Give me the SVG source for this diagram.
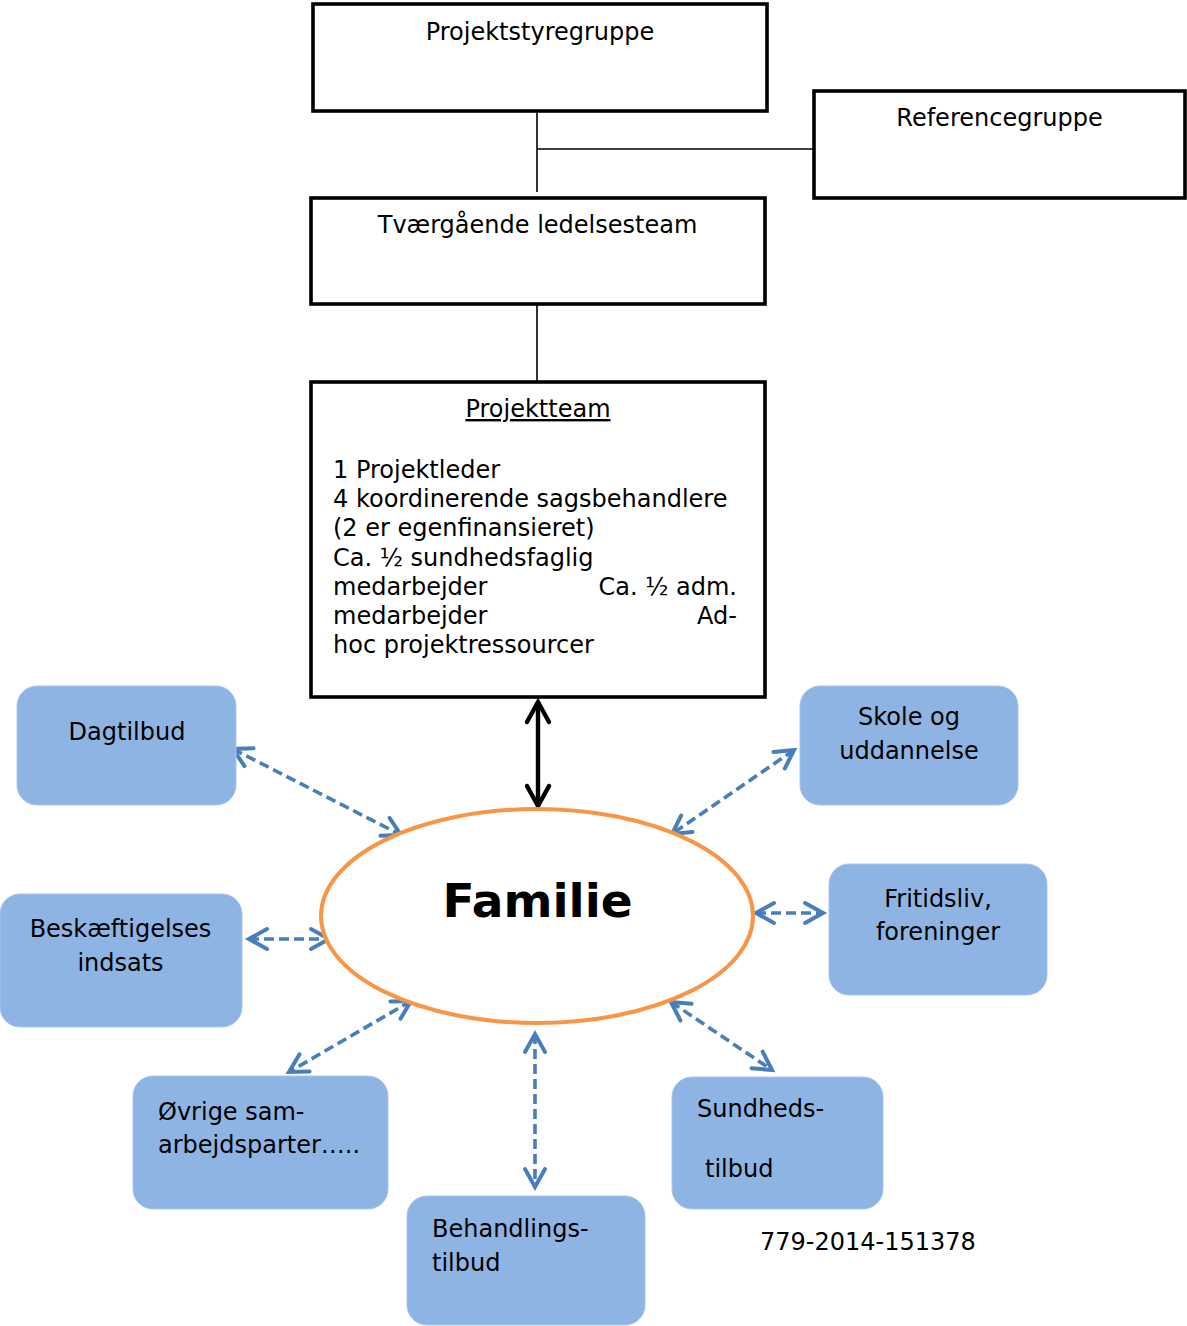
<svg xmlns="http://www.w3.org/2000/svg" width="1187" height="1326" viewBox="0 0 1187 1326">
<style>
text{font-family:"DejaVu Sans","Verdana",sans-serif;font-size:24px;fill:#000}
.box{fill:#fff;stroke:#000;stroke-width:3.6}
.blue{fill:#8EB4E3;stroke:#A9C6EC;stroke-width:1}
.conn{fill:none;stroke:#000;stroke-width:1.6}
.dash{fill:none;stroke:#4A7EBB;stroke-width:3.6;stroke-dasharray:10 5}
.mid{text-anchor:middle}
.end{text-anchor:end}
</style>
<defs>
<marker id="bh" viewBox="-24 -14 28 28" markerWidth="28" markerHeight="28" refX="0" refY="0" markerUnits="userSpaceOnUse" orient="auto-start-reverse" overflow="visible">
<path d="M-18,-10 L0,0 L-18,10" fill="none" stroke="#4A7EBB" stroke-width="4" stroke-linecap="round" stroke-dasharray="none"/>
</marker>
<marker id="kh" viewBox="-26 -14 30 28" markerWidth="30" markerHeight="28" refX="0" refY="0" markerUnits="userSpaceOnUse" orient="auto-start-reverse" overflow="visible">
<path d="M-20,-11 L0,0 L-20,11" fill="none" stroke="#000" stroke-width="4.4" stroke-linecap="round"/>
</marker>
</defs>
<rect width="1187" height="1326" fill="#fff"/>

<g id="connectors">
<line class="conn" x1="537" y1="111" x2="537" y2="192"/>
<line class="conn" x1="537" y1="149" x2="814" y2="149"/>
<line class="conn" x1="537" y1="304" x2="537" y2="382"/>
<line x1="538" y1="702" x2="538" y2="806" stroke="#000" stroke-width="4.4" marker-start="url(#kh)" marker-end="url(#kh)"/>
<line class="dash" x1="233" y1="749" x2="401" y2="835" marker-start="url(#bh)" marker-end="url(#bh)"/>
<line class="dash" x1="794" y1="750" x2="672" y2="834" marker-start="url(#bh)" marker-end="url(#bh)"/>
<line class="dash" x1="249" y1="939" x2="329" y2="939" marker-start="url(#bh)" marker-end="url(#bh)"/>
<line class="dash" x1="756" y1="913" x2="823" y2="913" marker-start="url(#bh)" marker-end="url(#bh)"/>
<line class="dash" x1="411" y1="1001" x2="289" y2="1072" marker-start="url(#bh)" marker-end="url(#bh)"/>
<line class="dash" x1="535" y1="1034" x2="535" y2="1187" marker-start="url(#bh)" marker-end="url(#bh)"/>
<line class="dash" x1="671" y1="1002" x2="772" y2="1070" marker-start="url(#bh)" marker-end="url(#bh)"/>
</g>

<g id="projektstyregruppe">
<rect class="box" x="313" y="4" width="454" height="107"/>
<text class="mid" x="540" y="40">Projektstyregruppe</text>
</g>
<g id="referencegruppe">
<rect class="box" x="814" y="91" width="371" height="107"/>
<text class="mid" x="999.5" y="126">Referencegruppe</text>
</g>
<g id="tvaergaaende">
<rect class="box" x="311" y="198" width="454" height="106"/>
<text class="mid" x="537.5" y="233">Tværgående ledelsesteam</text>
</g>
<g id="projektteam">
<rect class="box" x="311" y="382" width="454" height="315"/>
<text class="mid" x="538" y="417" text-decoration="underline">Projektteam</text>
<text x="333" y="478">1 Projektleder</text>
<text x="333" y="507">4 koordinerende sagsbehandlere</text>
<text x="333" y="536">(2 er egenfinansieret)</text>
<text x="333" y="566">Ca. ½ sundhedsfaglig</text>
<text x="333" y="595">medarbejder</text>
<text class="end" x="737" y="595">Ca. ½ adm.</text>
<text x="333" y="624">medarbejder</text>
<text class="end" x="737" y="624">Ad-</text>
<text x="333" y="653">hoc projektressourcer</text>
</g>
<g id="familie">
<ellipse cx="537" cy="916" rx="216" ry="107" fill="#fff" stroke="#F79646" stroke-width="4"/>
<text class="mid" x="537.5" y="917" font-weight="bold" style="font-size:47px">Familie</text>
</g>
<g id="dagtilbud">
<rect class="blue" x="17" y="686" width="219" height="119" rx="20"/>
<text class="mid" x="127" y="740">Dagtilbud</text>
</g>
<g id="skole">
<rect class="blue" x="800" y="686" width="218" height="119" rx="20"/>
<text class="mid" x="909" y="725">Skole og</text>
<text class="mid" x="909" y="759">uddannelse</text>
</g>
<g id="beskaeftigelse">
<rect class="blue" x="0" y="894" width="242" height="133" rx="20"/>
<text class="mid" x="120.5" y="937">Beskæftigelses</text>
<text class="mid" x="120.5" y="971">indsats</text>
</g>
<g id="fritidsliv">
<rect class="blue" x="829" y="864" width="218" height="131" rx="20"/>
<text class="mid" x="938" y="907">Fritidsliv,</text>
<text class="mid" x="938" y="940">foreninger</text>
</g>
<g id="oevrige">
<rect class="blue" x="133" y="1076" width="255" height="133" rx="20"/>
<text x="158" y="1120">Øvrige sam-</text>
<text x="158" y="1153">arbejdsparter…..</text>
</g>
<g id="behandling">
<rect class="blue" x="407" y="1196" width="238" height="129" rx="20"/>
<text x="432" y="1237">Behandlings-</text>
<text x="432" y="1271">tilbud</text>
</g>
<g id="sundhed">
<rect class="blue" x="672" y="1077" width="211" height="132" rx="20"/>
<text x="697" y="1117">Sundheds-</text>
<text x="705" y="1177">tilbud</text>
</g>
<text x="760" y="1250">779-2014-151378</text>
</svg>
